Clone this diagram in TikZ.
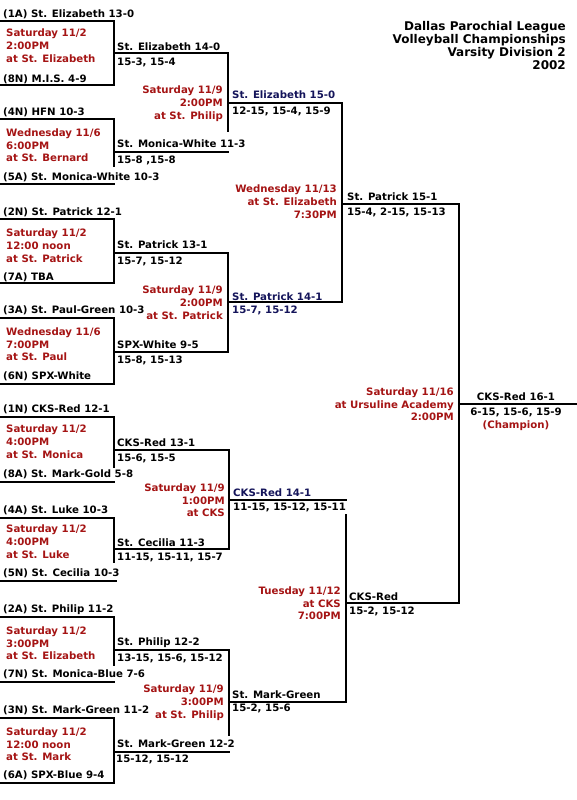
\documentclass[tikz,border=0pt]{standalone}
\usepackage{fontspec}
\setmainfont{DejaVu Sans}
\definecolor{dred}{RGB}{165,20,20}
\definecolor{navy}{RGB}{20,20,90}
\tikzset{
  txt/.style={font=\bfseries\fontsize{10.2}{13}\selectfont, inner sep=0pt, anchor=base west, yshift=-3.8pt},
  rtxt/.style={txt, anchor=base east},
  ctxt/.style={txt, anchor=base},
  ttl/.style={rtxt, font=\bfseries\fontsize{12}{13}\selectfont, yshift=-0.6pt},
  red/.style={text=dred},
  nv/.style={text=navy},
  brk/.style={line width=2.2pt, line join=miter, line cap=rect}
}
\begin{document}
\begin{tikzpicture}[x=1pt,y=-1pt]
\useasboundingbox (0,0) rectangle (576,800);
\fill[white] (0,0) rectangle (576,800);

% ---------- title ----------
\node[ttl] (t1) at (566,26) {Dallas Parochial League};
\node[ttl] (t2) at (566,39) {Volleyball Championships};
\node[ttl] (t3) at (566,52) {Varsity Division 2};
\node[ttl] (t4) at (566,65) {2002};

% ---------- round 1 lines ----------
\draw[brk] (0,21) -- (114,21) -- (114,85) -- (0,85);
\draw[brk] (0,119) -- (114,119) -- (114,166);
\draw[brk] (0,184) -- (114,184);
\draw[brk] (0,219) -- (114,219) -- (114,283) -- (0,283);
\draw[brk] (0,318) -- (114,318) -- (114,384) -- (0,384);
\draw[brk] (0,417) -- (114,417) -- (114,467);
\draw[brk] (0,482) -- (114,482);
\draw[brk] (0,518) -- (114,518) -- (114,562);
\draw[brk] (0,581) -- (116,581);
\draw[brk] (0,617) -- (114,617) -- (114,665);
\draw[brk] (0,682) -- (114,682);
\draw[brk] (0,718) -- (114,718) -- (114,783) -- (0,783);

% ---------- round 2 lines ----------
\draw[brk] (114,53) -- (228,53) -- (228,131);
\draw[brk] (114,152) -- (228,152);
\draw[brk] (114,253) -- (228,253) -- (228,352) -- (114,352);
\draw[brk] (114,450) -- (229,450) -- (229,549) -- (114,549);
\draw[brk] (114,650) -- (229,650) -- (229,735);
\draw[brk] (114,752) -- (229,752);

% ---------- round 3 lines ----------
\draw[brk] (228,103) -- (342,103) -- (342,302) -- (228,302);
\draw[brk] (229,500) -- (346,500);
\draw[brk] (346,515) -- (346,702) -- (229,702);

% ---------- semifinal / final lines ----------
\draw[brk] (342,204) -- (459,204) -- (459,603) -- (346,603);
\draw[brk] (459,404) -- (576,404);

% ---------- round 1 texts ----------
\node[txt] (s1a) at (3,13.5) {(1A) St. Elizabeth 13-0};
\node[txt,red] (g1a) at (6,33) {Saturday 11/2};
\node[txt,red] (g1b) at (6,46) {2:00PM};
\node[txt,red] (g1c) at (6,59) {at St. Elizabeth};
\node[txt] (s8n) at (3,79) {(8N) M.I.S. 4-9};

\node[txt] (s4n) at (3,112) {(4N) HFN 10-3};
\node[txt,red] (g2a) at (6,132.5) {Wednesday 11/6};
\node[txt,red] (g2b) at (6,145.5) {6:00PM};
\node[txt,red] (g2c) at (6,158) {at St. Bernard};
\node[txt] (s5a) at (3,177) {(5A) St. Monica-White 10-3};

\node[txt] (s2n) at (3,212) {(2N) St. Patrick 12-1};
\node[txt,red] (g3a) at (6,233) {Saturday 11/2};
\node[txt,red] (g3b) at (6,246) {12:00 noon};
\node[txt,red] (g3c) at (6,259) {at St. Patrick};
\node[txt] (s7a) at (3,277) {(7A) TBA};

\node[txt] (s3a) at (3,310) {(3A) St. Paul-Green 10-3};
\node[txt,red] (g4a) at (6,332) {Wednesday 11/6};
\node[txt,red] (g4b) at (6,345) {7:00PM};
\node[txt,red] (g4c) at (6,357) {at St. Paul};
\node[txt] (s6n) at (3,376) {(6N) SPX-White};

\node[txt] (s1n) at (3,409) {(1N) CKS-Red 12-1};
\node[txt,red] (g5a) at (6,429) {Saturday 11/2};
\node[txt,red] (g5b) at (6,442) {4:00PM};
\node[txt,red] (g5c) at (6,455) {at St. Monica};
\node[txt] (s8a) at (3,474) {(8A) St. Mark-Gold 5-8};

\node[txt] (s4a) at (3,510) {(4A) St. Luke 10-3};
\node[txt,red] (g6a) at (6,529) {Saturday 11/2};
\node[txt,red] (g6b) at (6,542) {4:00PM};
\node[txt,red] (g6c) at (6,555) {at St. Luke};
\node[txt] (s5n) at (3,573) {(5N) St. Cecilia 10-3};

\node[txt] (s2a) at (3,609) {(2A) St. Philip 11-2};
\node[txt,red] (g7a) at (6,631) {Saturday 11/2};
\node[txt,red] (g7b) at (6,643.5) {3:00PM};
\node[txt,red] (g7c) at (6,656) {at St. Elizabeth};
\node[txt] (s7n) at (3,674) {(7N) St. Monica-Blue 7-6};

\node[txt] (s3n) at (3,710) {(3N) St. Mark-Green 11-2};
\node[txt,red] (g8a) at (6,732) {Saturday 11/2};
\node[txt,red] (g8b) at (6,745) {12:00 noon};
\node[txt,red] (g8c) at (6,757) {at St. Mark};
\node[txt] (s6a) at (3,775) {(6A) SPX-Blue 9-4};

% ---------- round 1 winners ----------
\node[txt] (w1) at (117,47) {St. Elizabeth 14-0};
\node[txt] (w1s) at (117,62) {15-3, 15-4};
\node[txt] (w2) at (117,144) {St. Monica-White 11-3};
\node[txt] (w2s) at (117,160) {15-8 ,15-8};
\node[txt] (w3) at (117,245) {St. Patrick 13-1};
\node[txt] (w3s) at (117,261) {15-7, 15-12};
\node[txt] (w4) at (117,345) {SPX-White 9-5};
\node[txt] (w4s) at (117,359.5) {15-8, 15-13};
\node[txt] (w5) at (117,443) {CKS-Red 13-1};
\node[txt] (w5s) at (117,457.5) {15-6, 15-5};
\node[txt] (w6) at (117,543) {St. Cecilia 11-3};
\node[txt] (w6s) at (117,556.5) {11-15, 15-11, 15-7};
\node[txt] (w7) at (117,642) {St. Philip 12-2};
\node[txt] (w7s) at (117,657.5) {13-15, 15-6, 15-12};
\node[txt] (w8) at (117,744) {St. Mark-Green 12-2};
\node[txt] (w8s) at (116,759) {15-12, 15-12};

% ---------- round 2 games ----------
\node[rtxt,red] (h1a) at (223,90) {Saturday 11/9};
\node[rtxt,red] (h1b) at (223,103) {2:00PM};
\node[rtxt,red] (h1c) at (223,116) {at St. Philip};
\node[rtxt,red] (h2a) at (223,290) {Saturday 11/9};
\node[rtxt,red] (h2b) at (223,303) {2:00PM};
\node[rtxt,red] (h2c) at (223,316) {at St. Patrick};
\node[rtxt,red] (h3a) at (225,488) {Saturday 11/9};
\node[rtxt,red] (h3b) at (225,500.5) {1:00PM};
\node[rtxt,red] (h3c) at (225,513) {at CKS};
\node[rtxt,red] (h4a) at (224,689) {Saturday 11/9};
\node[rtxt,red] (h4b) at (224,702) {3:00PM};
\node[rtxt,red] (h4c) at (224,715) {at St. Philip};

% ---------- round 2 winners ----------
\node[txt,nv] (v1) at (232,95) {St. Elizabeth 15-0};
\node[txt] (v1s) at (232,111) {12-15, 15-4, 15-9};
\node[txt,nv] (v2) at (232,297) {St. Patrick 14-1};
\node[txt,nv] (v2s) at (232,310) {15-7, 15-12};
\node[txt,nv] (v3) at (233,493) {CKS-Red 14-1};
\node[txt] (v3s) at (233,507) {11-15, 15-12, 15-11};
\node[txt] (v4) at (232,695) {St. Mark-Green};
\node[txt] (v4s) at (232,708) {15-2, 15-6};

% ---------- round 3 games ----------
\node[rtxt,red] (k1a) at (337,189) {Wednesday 11/13};
\node[rtxt,red] (k1b) at (337,202) {at St. Elizabeth};
\node[rtxt,red] (k1c) at (337,215) {7:30PM};
\node[rtxt,red] (k2a) at (341,591) {Tuesday 11/12};
\node[rtxt,red] (k2b) at (341,604) {at CKS};
\node[rtxt,red] (k2c) at (341,616) {7:00PM};

% ---------- round 3 winners ----------
\node[txt] (u1) at (347,197) {St. Patrick 15-1};
\node[txt] (u1s) at (347,212) {15-4, 2-15, 15-13};
\node[txt] (u2) at (349,597) {CKS-Red};
\node[txt] (u2s) at (349,611) {15-2, 15-12};

% ---------- final ----------
\node[rtxt,red] (f1) at (454,392) {Saturday 11/16};
\node[rtxt,red] (f2) at (454,404.5) {at Ursuline Academy};
\node[rtxt,red] (f3) at (454,417) {2:00PM};
\node[ctxt] (c1) at (516,397) {CKS-Red 16-1};
\node[ctxt] (c2) at (516,412) {6-15, 15-6, 15-9};
\node[ctxt,red] (c3) at (516,425) {(Champion)};
\end{tikzpicture}
\end{document}
